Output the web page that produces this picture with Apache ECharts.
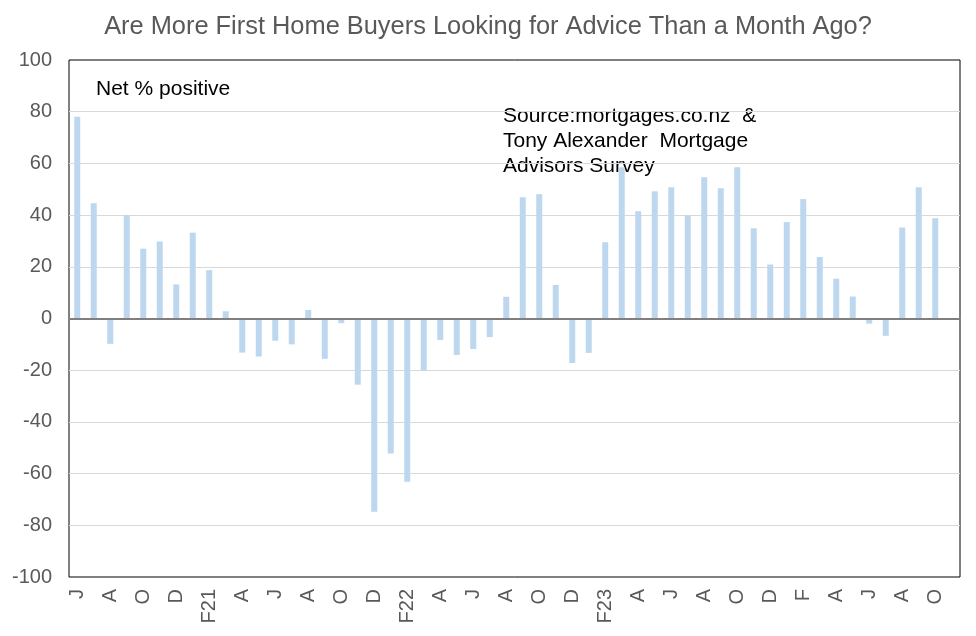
<!DOCTYPE html>
<html>
<head>
<meta charset="utf-8">
<script src="https://cdn.jsdelivr.net/npm/echarts@6/dist/echarts.min.js"></script>
<style>
html,body{margin:0;padding:0;background:#fff;}
#chart{width:976px;height:636px;}
</style>
</head>
<body>
<div id="chart"></div>
<script>
// Months Jun 2020 .. Nov 2024 (last category is empty)
const months = ['J','J','A','S','O','N','D',
  'J','F21','M','A','M','J','J','A','S','O','N','D',
  'J','F22','M','A','M','J','J','A','S','O','N','D',
  'J','F23','M','A','M','J','J','A','S','O','N','D',
  'J','F','M','A','M','J','J','A','S','O','N'];
const netPositive = [78, 44.6, -9.8, 40, 27, 29.8, 13.2,
  33.2, 18.7, 2.8, -13.2, -14.7, -8.6, -10, 3.3, -15.6, -1.8, -25.6, -74.8,
  -52.2, -63.2, -20, -8.3, -14.1, -11.8, -7.2, 8.4, 46.9, 48.1, 13, -17.2,
  -13.3, 29.5, 58.5, 41.5, 49.2, 50.8, 39.9, 54.6, 50.4, 58.5, 34.9, 20.9,
  37.3, 46.2, 23.8, 15.4, 8.5, -2, -6.7, 35.2, 50.8, 38.8, null];
const yTicks = {min: -100, max: 100, interval: 20};
const titleText = 'Are More First Home Buyers Looking for Advice Than a Month Ago?';
const noteText = 'Net % positive';
const sourceLines = ['Source:mortgages.co.nz  &', 'Tony Alexander  Mortgage', 'Advisors Survey'];

const font = 'Arial, "Liberation Sans", sans-serif';
const chart = echarts.init(document.getElementById('chart'));
chart.setOption({
  animation: false,
  backgroundColor: '#fff',
  title: {
    text: titleText,
    left: 'center',
    top: 14,
    padding: 0,
    textStyle: {color: '#595959', fontSize: 25.4, fontWeight: 'normal', fontFamily: font}
  },
  grid: {left: 69, right: 16, top: 60, bottom: 59, show: true, borderColor: '#000', borderWidth: 1, backgroundColor: 'transparent'},
  xAxis: {
    type: 'category',
    data: months,
    axisLine: {show: false, onZero: false},
    axisTick: {show: false},
    axisLabel: {interval: 1, rotate: 90, color: '#595959', fontSize: 20, fontFamily: font, margin: 12}
  },
  yAxis: {
    type: 'value',
    min: yTicks.min, max: yTicks.max, interval: yTicks.interval,
    axisLine: {show: false},
    axisTick: {show: false},
    splitLine: {showMinLine: false, showMaxLine: false, lineStyle: {color: '#d9d9d9', width: 1}},
    axisLabel: {color: '#595959', fontSize: 20, fontFamily: font, margin: 17}
  },
  series: [{
    type: 'bar',
    data: netPositive,
    barWidth: 6,
    itemStyle: {color: '#BDD7EE'},
    markLine: {
      silent: true,
      symbol: 'none',
      label: {show: false},
      lineStyle: {color: '#7f7f7f', width: 2, type: 'solid'},
      data: [{yAxis: 0}]
    }
  }],
  graphic: [
    {type: 'text', x: 96, y: 89, style: {text: noteText, fill: '#000', font: '21px ' + font, textVerticalAlign: 'middle'}},
    {type: 'text', x: 503, y: 116, style: {text: sourceLines[0], fill: '#000', font: '21px ' + font, textVerticalAlign: 'middle'}},
    {type: 'text', x: 503, y: 141, style: {text: sourceLines[1], fill: '#000', font: '21px ' + font, textVerticalAlign: 'middle'}},
    {type: 'text', x: 503, y: 166, style: {text: sourceLines[2], fill: '#000', font: '21px ' + font, textVerticalAlign: 'middle'}}
  ]
});
</script>
</body>
</html>
